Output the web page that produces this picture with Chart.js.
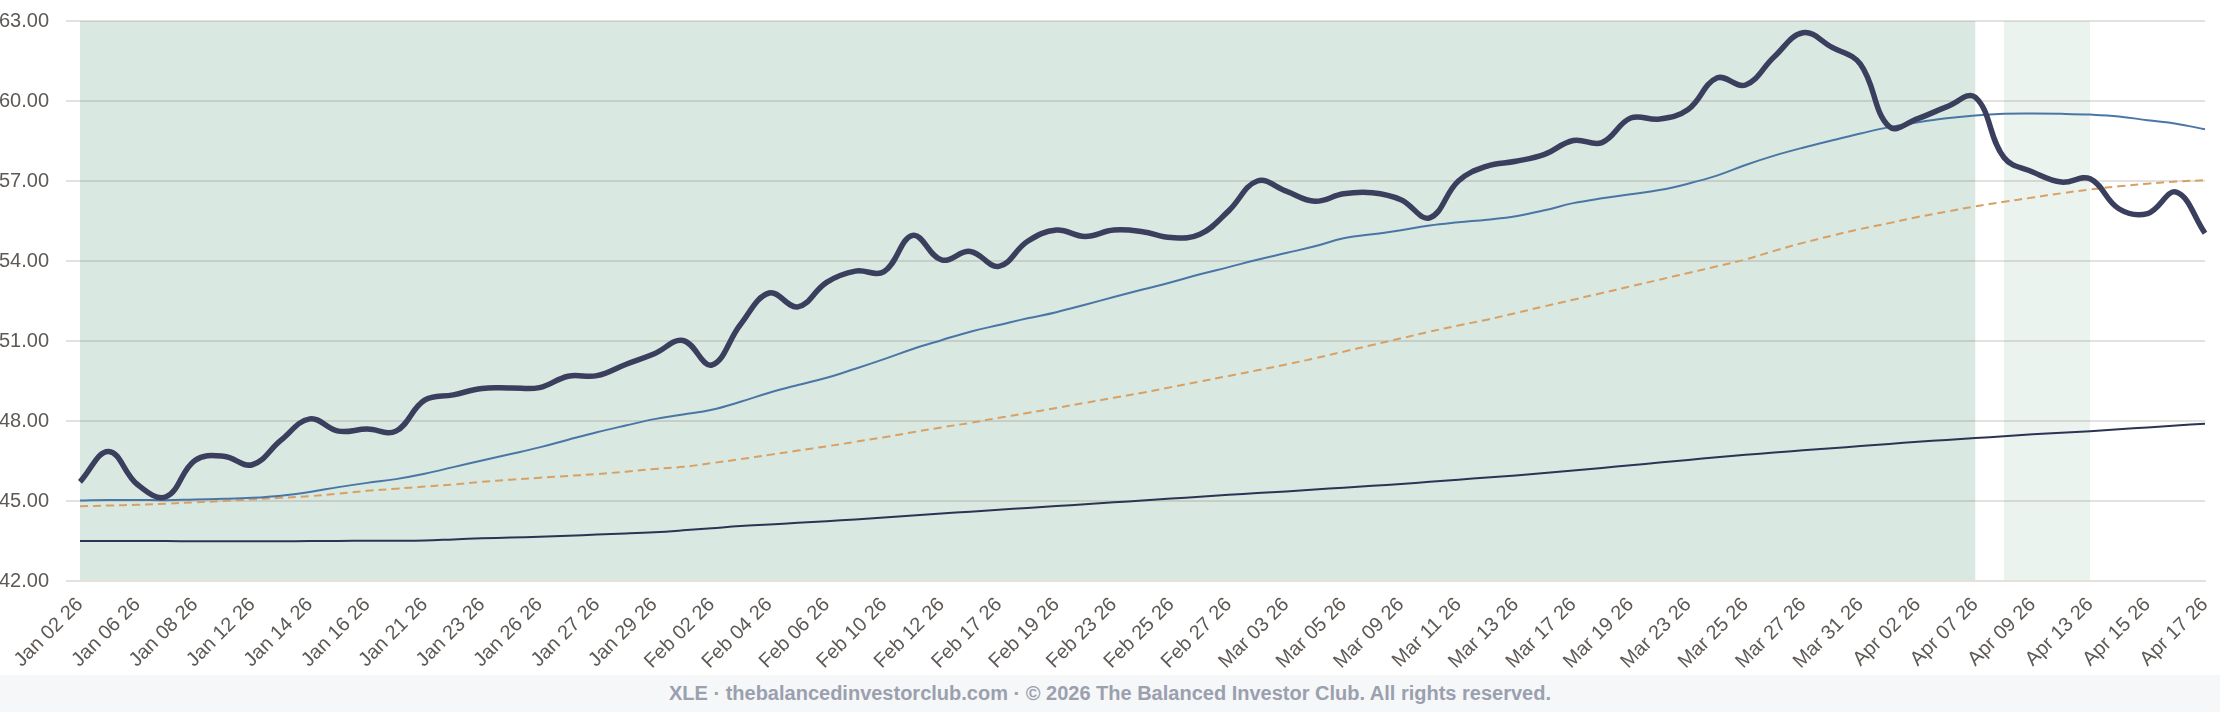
<!DOCTYPE html>
<html>
<head>
<meta charset="utf-8">
<script src="https://cdn.jsdelivr.net/npm/chart.js@4.4.1/dist/chart.umd.min.js"></script>
<style>
  html, body { margin: 0; padding: 0; background: #ffffff; }
  #wrap { position: relative; width: 2220px; height: 675px; }
  #footer {
    width: 2220px; height: 37px; background: #f6f7f9;
    font-family: "Liberation Sans", Arial, sans-serif; font-weight: bold;
    font-size: 20px; color: #9aa0ae; text-align: center; line-height: 37px;
  }
</style>
</head>
<body>
<div id="wrap"><canvas id="xleChart"></canvas></div>
<div id="footer">XLE · thebalancedinvestorclub.com · © 2026 The Balanced Investor Club. All rights reserved.</div>
<script>
// trading days (two unlabeled extras sit between Jan 23 and Jan 27)
var dates = [
  "Jan 02 26","Jan 05 26","Jan 06 26","Jan 07 26","Jan 08 26","Jan 09 26","Jan 12 26","Jan 13 26",
  "Jan 14 26","Jan 15 26","Jan 16 26","Jan 20 26","Jan 21 26","Jan 22 26","Jan 23 26","Jan 24 26",
  "Jan 26 26","Jan 26 26","Jan 27 26","Jan 28 26","Jan 29 26","Jan 30 26","Feb 02 26","Feb 03 26",
  "Feb 04 26","Feb 05 26","Feb 06 26","Feb 09 26","Feb 10 26","Feb 11 26","Feb 12 26","Feb 13 26",
  "Feb 17 26","Feb 18 26","Feb 19 26","Feb 20 26","Feb 23 26","Feb 24 26","Feb 25 26","Feb 26 26",
  "Feb 27 26","Mar 02 26","Mar 03 26","Mar 04 26","Mar 05 26","Mar 06 26","Mar 09 26","Mar 10 26",
  "Mar 11 26","Mar 12 26","Mar 13 26","Mar 16 26","Mar 17 26","Mar 18 26","Mar 19 26","Mar 20 26",
  "Mar 23 26","Mar 24 26","Mar 25 26","Mar 26 26","Mar 27 26","Mar 30 26","Mar 31 26","Apr 01 26",
  "Apr 02 26","Apr 06 26","Apr 07 26","Apr 08 26","Apr 09 26","Apr 10 26","Apr 13 26","Apr 14 26",
  "Apr 15 26","Apr 16 26","Apr 17 26"
];

var closePrice = [
  45.72, 46.86, 45.62, 45.16, 46.52, 46.68, 46.36, 47.28, 48.08, 47.62,
  47.70, 47.62, 48.78, 48.98, 49.22, 49.24, 49.25, 49.68, 49.70, 50.12,
  50.52, 51.02, 50.10, 51.62, 52.80, 52.28, 53.20, 53.62, 53.60, 54.96,
  54.04, 54.36, 53.80, 54.74, 55.16, 54.92, 55.16, 55.10, 54.88, 55.00,
  55.88, 57.00, 56.62, 56.24, 56.52, 56.56, 56.30, 55.62, 57.00, 57.56,
  57.74, 58.00, 58.52, 58.44, 59.36, 59.32, 59.68, 60.86, 60.60, 61.66,
  62.56, 62.02, 61.38, 59.04, 59.34, 59.78, 60.14, 57.88, 57.34, 56.96,
  57.08, 55.96, 55.78, 56.58, 55.04
];

var fastAvg = [
  45.02, 45.04, 45.04, 45.03, 45.06, 45.08, 45.12, 45.20, 45.34, 45.52,
  45.68, 45.82, 46.02, 46.27, 46.52, 46.76, 47.01, 47.30, 47.58, 47.83,
  48.07, 48.24, 48.42, 48.72, 49.06, 49.35, 49.62, 49.96, 50.32, 50.70,
  51.03, 51.35, 51.60, 51.85, 52.08, 52.36, 52.65, 52.93, 53.20, 53.50,
  53.77, 54.05, 54.30, 54.55, 54.85, 55.00, 55.15, 55.33, 55.45, 55.55,
  55.68, 55.90, 56.17, 56.35, 56.50, 56.66, 56.90, 57.20, 57.60, 57.95,
  58.25, 58.52, 58.78, 59.02, 59.20, 59.35, 59.46, 59.52, 59.53, 59.52,
  59.49, 59.42, 59.28, 59.15, 58.94
];

var midAvg = [
  44.80, 44.83, 44.86, 44.90, 44.95, 45.00, 45.06, 45.12, 45.18, 45.28,
  45.38, 45.46, 45.54, 45.62, 45.72, 45.80, 45.87, 45.94, 46.01, 46.10,
  46.20, 46.28, 46.42, 46.57, 46.73, 46.89, 47.05, 47.22, 47.39, 47.58,
  47.76, 47.93, 48.12, 48.30, 48.49, 48.68, 48.87, 49.06, 49.27, 49.48,
  49.69, 49.90, 50.12, 50.35, 50.60, 50.85, 51.10, 51.35, 51.58, 51.80,
  52.05, 52.30, 52.55, 52.80, 53.05, 53.30, 53.55, 53.80, 54.06, 54.38,
  54.68, 54.95, 55.20, 55.42, 55.65, 55.85, 56.05, 56.22, 56.38, 56.54,
  56.68, 56.80, 56.90, 56.98, 57.03
];

var slowAvg = [
  43.50, 43.50, 43.50, 43.50, 43.49, 43.49, 43.49, 43.49, 43.50, 43.50,
  43.51, 43.51, 43.52, 43.56, 43.60, 43.63, 43.66, 43.70, 43.74, 43.78,
  43.83, 43.90, 43.98, 44.06, 44.12, 44.18, 44.24, 44.31, 44.38, 44.46,
  44.53, 44.60, 44.67, 44.74, 44.81, 44.88, 44.95, 45.02, 45.09, 45.16,
  45.23, 45.30, 45.36, 45.43, 45.50, 45.57, 45.64, 45.72, 45.80, 45.88,
  45.96, 46.05, 46.14, 46.24, 46.34, 46.44, 46.54, 46.64, 46.73, 46.82,
  46.90, 46.98, 47.06, 47.14, 47.22, 47.29, 47.36, 47.43, 47.50, 47.56,
  47.62, 47.69, 47.76, 47.83, 47.90
];

// shaded regimes: first and last day of each
var strongFrom = ["Jan 02 26"];
var strongTo = ["Apr 07 26"];
var weakFrom = ["Apr 08 26"];
var weakTo = ["Apr 13 26"];

var yTicks = [42, 45, 48, 51, 54, 57, 60, 63];

const bandPlugin = {
  id: 'bands',
  beforeDraw(chart) {
    const x = chart.scales.x;
    const area = chart.chartArea;
    const ctx = chart.ctx;
    function fill(from, to, color) {
      for (let i = 0; i < from.length; i++) {
        const a = x.getPixelForValue(dates.indexOf(from[i]));
        const b = x.getPixelForValue(dates.indexOf(to[i]));
        ctx.save();
        ctx.fillStyle = color;
        ctx.fillRect(a, area.top, b - a, area.bottom - area.top);
        ctx.restore();
      }
    }
    fill(strongFrom, strongTo, '#d9e8e0');
    fill(weakFrom, weakTo, '#ebf3ee');
  }
};

const ctx = document.getElementById('xleChart');
new Chart(ctx, {
  type: 'line',
  data: {
    labels: dates,
    datasets: [
      {
        label: 'XLE',
        data: closePrice,
        borderColor: '#3b3f5e',
        borderWidth: 5.5,
        pointRadius: 0,
        tension: 0.4
      },
      {
        label: 'Fast',
        data: fastAvg,
        borderColor: '#4a76a6',
        borderWidth: 2,
        pointRadius: 0,
        tension: 0.4
      },
      {
        label: 'Mid',
        data: midAvg,
        borderColor: '#d9a064',
        borderWidth: 2,
        borderDash: [8, 5],
        pointRadius: 0,
        tension: 0.4
      },
      {
        label: 'Slow',
        data: slowAvg,
        borderColor: '#2c3354',
        borderWidth: 2,
        pointRadius: 0,
        tension: 0.4
      }
    ]
  },
  options: {
    responsive: true,
    maintainAspectRatio: false,
    animation: false,
    devicePixelRatio: 1,
    layout: { padding: { top: 21, right: 15, bottom: 0, left: 0 } },
    plugins: {
      legend: { display: false },
      tooltip: { enabled: false }
    },
    scales: {
      x: {
        grid: { display: false, drawTicks: false },
        border: { display: true, color: '#e6e0dc', width: 2 },
        afterFit: function(axis) {
          axis.paddingLeft = 0;
          axis.paddingRight = 0;
          axis.height = 94;
        },
        ticks: {
          autoSkip: false,
          minRotation: 45,
          maxRotation: 45,
          padding: 12,
          color: '#5e5955',
          font: { family: '"Liberation Sans", Arial, sans-serif', size: 20 },
          callback: function(value, index) {
            return index % 2 === 0 ? this.getLabelForValue(value) : null;
          }
        }
      },
      y: {
        min: 42,
        max: 63,
        afterBuildTicks: function(axis) {
          axis.ticks = yTicks.map(function(v) { return { value: v }; });
        },
        afterFit: function(axis) {
          axis.width = 80;
          axis.paddingTop = 0;
          axis.paddingBottom = 0;
        },
        grid: { color: 'rgba(120,110,100,0.2)', lineWidth: 2, tickLength: 14 },
        border: { display: false },
        ticks: {
          padding: 17,
          color: '#5e5955',
          font: { family: '"Liberation Sans", Arial, sans-serif', size: 20 },
          callback: function(value) { return value.toFixed(2); }
        }
      }
    }
  },
  plugins: [bandPlugin]
});
</script>
</body>
</html>
